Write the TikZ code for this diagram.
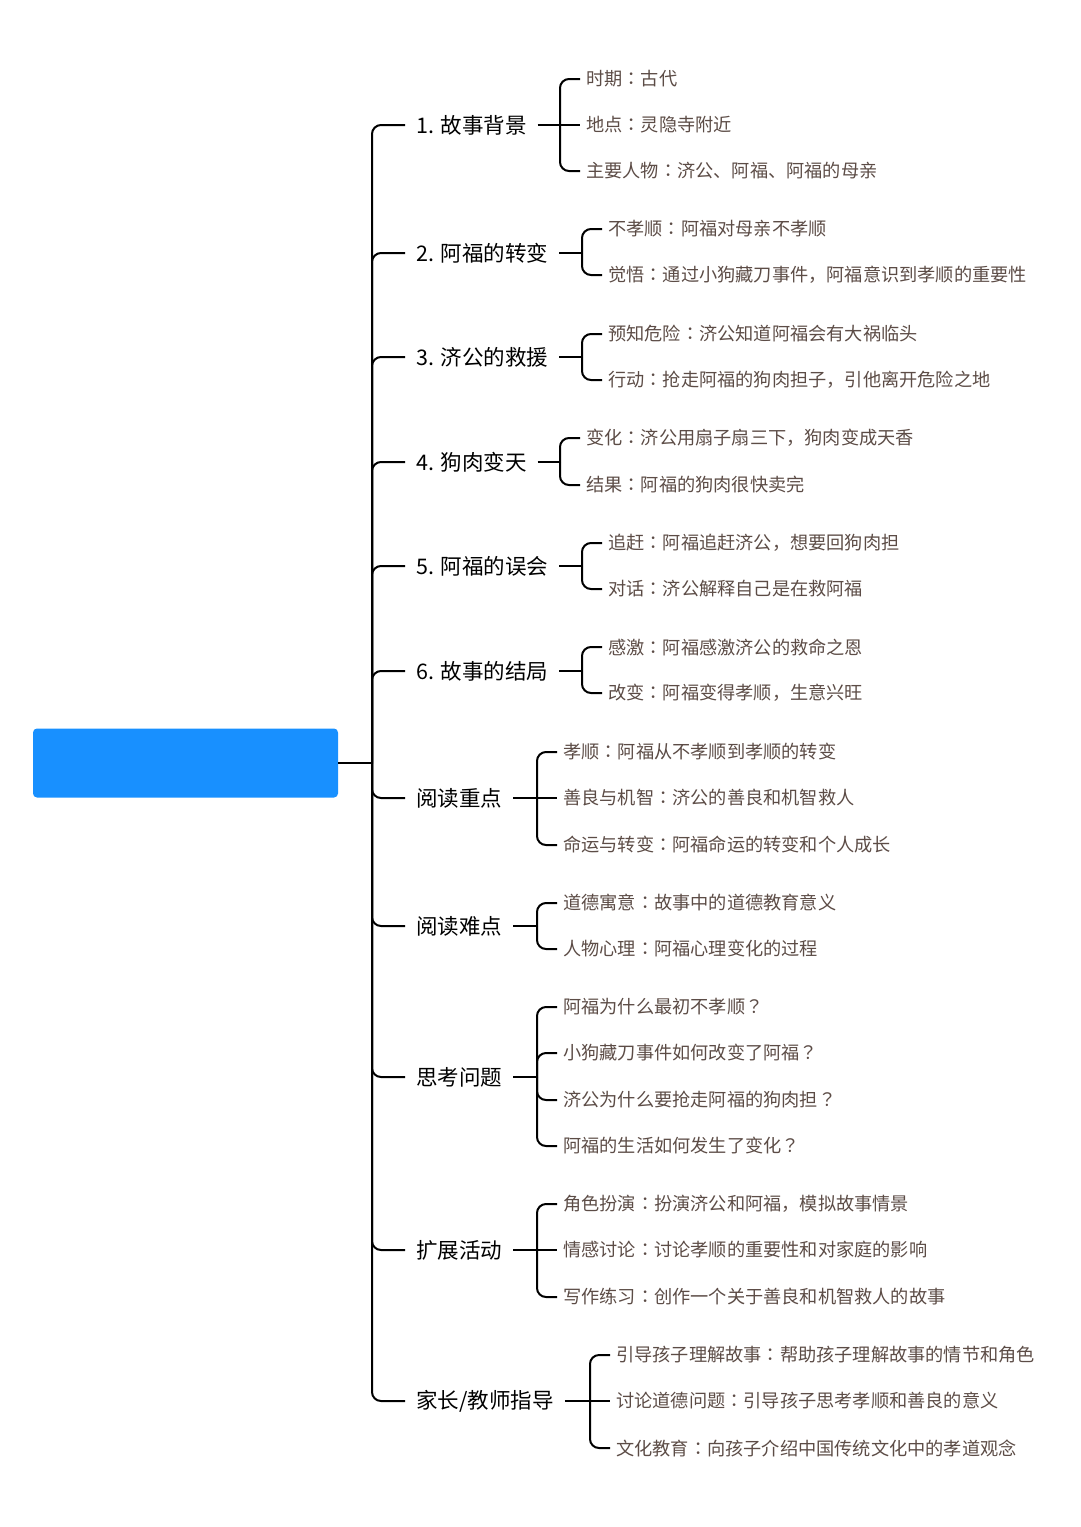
\documentclass[tikz,border=0pt]{standalone}
\usepackage{fontspec}
\setmainfont{Noto Sans CJK SC}
\newfontfamily\tcfont{Noto Sans CJK TC}
\usetikzlibrary{positioning}
\definecolor{rootblue}{RGB}{24,144,255}
\definecolor{leafbrown}{RGB}{92,76,70}
\newcommand{\cln}{{\tcfont ：}}
\newcommand{\qmk}{{\tcfont ？}}
\tikzset{
  rootbox/.style={rectangle,rounded corners=4pt,fill=rootblue,minimum width=305pt,minimum height=69pt},
  topic/.style={anchor=west,inner xsep=11pt,inner ysep=2pt,font=\fontsize{21.5}{25}\selectfont},
  leaf/.style={anchor=west,inner xsep=6pt,inner ysep=2pt,text=leafbrown,font=\fontsize{18.2}{22}\selectfont},
  link/.style={line width=2pt,rounded corners=9pt},
}
\begin{document}
\begin{tikzpicture}[x=1pt,y=1pt]
    \useasboundingbox (0,0) rectangle (1080,-1527);
    % ------------- root and trunk -------------
    \node[rootbox] (root) at (185.5,-763) {};
    \coordinate (trunk) at (372,-763);
    \draw[link] (root.east) -- (trunk);
    % ------------- topics -------------
    \node[topic] (t1) at (405,-125) {1. 故事背景};
    \node[topic] (t2) at (405,-253) {2. 阿福的转变};
    \node[topic] (t3) at (405,-357) {3. 济公的救援};
    \node[topic] (t4) at (405,-462) {4. 狗肉变天};
    \node[topic] (t5) at (405,-566) {5. 阿福的误会};
    \node[topic] (t6) at (405,-671) {6. 故事的结局};
    \node[topic] (t7) at (405,-798) {阅读重点};
    \node[topic] (t8) at (405,-926) {阅读难点};
    \node[topic] (t9) at (405,-1077) {思考问题};
    \node[topic] (t10) at (405,-1250) {扩展活动};
    \node[topic] (t11) at (405,-1401) {家长/教师指导};
    \foreach \t in {t1,t2,t3,t4,t5,t6,t7,t8,t9,t10,t11}
      \draw[link] (trunk) |- (\t.west);
    % ------------- 1. background -------------
    \coordinate (j1) at (560,-125);
    \node[leaf] (l11) at (580,-79) {时期\cln 古代};
    \node[leaf] (l12) at (580,-125) {地点\cln 灵隐寺附近};
    \node[leaf] (l13) at (580,-171) {主要人物\cln 济公、阿福、阿福的母亲};
    \draw[link] (t1.east) -- (j1) -- (l12.west);
    \draw[link] (j1) |- (l11.west);
    \draw[link] (j1) |- (l13.west);
    % ------------- 2. change -------------
    \coordinate (j2) at (582,-253);
    \node[leaf] (l21) at (602,-229) {不孝顺\cln 阿福对母亲不孝顺};
    \node[leaf] (l22) at (602,-275) {觉悟\cln 通过小狗藏刀事件，阿福意识到孝顺的重要性};
    \draw[link] (t2.east) -- (j2);
    \draw[link] (j2) |- (l21.west);
    \draw[link] (j2) |- (l22.west);
    % ------------- 3. rescue -------------
    \coordinate (j3) at (582,-357);
    \node[leaf] (l31) at (602,-334) {预知危险\cln 济公知道阿福会有大祸临头};
    \node[leaf] (l32) at (602,-380) {行动\cln 抢走阿福的狗肉担子，引他离开危险之地};
    \draw[link] (t3.east) -- (j3);
    \draw[link] (j3) |- (l31.west);
    \draw[link] (j3) |- (l32.west);
    % ------------- 4. dog meat -------------
    \coordinate (j4) at (560,-462);
    \node[leaf] (l41) at (580,-438) {变化\cln 济公用扇子扇三下，狗肉变成天香};
    \node[leaf] (l42) at (580,-485) {结果\cln 阿福的狗肉很快卖完};
    \draw[link] (t4.east) -- (j4);
    \draw[link] (j4) |- (l41.west);
    \draw[link] (j4) |- (l42.west);
    % ------------- 5. misunderstanding -------------
    \coordinate (j5) at (582,-566);
    \node[leaf] (l51) at (602,-543) {追赶\cln 阿福追赶济公，想要回狗肉担};
    \node[leaf] (l52) at (602,-589) {对话\cln 济公解释自己是在救阿福};
    \draw[link] (t5.east) -- (j5);
    \draw[link] (j5) |- (l51.west);
    \draw[link] (j5) |- (l52.west);
    % ------------- 6. ending -------------
    \coordinate (j6) at (582,-671);
    \node[leaf] (l61) at (602,-647) {感激\cln 阿福感激济公的救命之恩};
    \node[leaf] (l62) at (602,-693) {改变\cln 阿福变得孝顺，生意兴旺};
    \draw[link] (t6.east) -- (j6);
    \draw[link] (j6) |- (l61.west);
    \draw[link] (j6) |- (l62.west);
    % ------------- reading focus -------------
    \coordinate (j7) at (537,-798);
    \node[leaf] (l71) at (557,-752) {孝顺\cln 阿福从不孝顺到孝顺的转变};
    \node[leaf] (l72) at (557,-798) {善良与机智\cln 济公的善良和机智救人};
    \node[leaf] (l73) at (557,-845) {命运与转变\cln 阿福命运的转变和个人成长};
    \draw[link] (t7.east) -- (j7) -- (l72.west);
    \draw[link] (j7) |- (l71.west);
    \draw[link] (j7) |- (l73.west);
    % ------------- reading difficulty -------------
    \coordinate (j8) at (537,-926);
    \node[leaf] (l81) at (557,-903) {道德寓意\cln 故事中的道德教育意义};
    \node[leaf] (l82) at (557,-949) {人物心理\cln 阿福心理变化的过程};
    \draw[link] (t8.east) -- (j8);
    \draw[link] (j8) |- (l81.west);
    \draw[link] (j8) |- (l82.west);
    % ------------- questions -------------
    \coordinate (j9) at (537,-1077);
    \node[leaf] (l91) at (557,-1007) {阿福为什么最初不孝顺\qmk};
    \node[leaf] (l92) at (557,-1053) {小狗藏刀事件如何改变了阿福\qmk};
    \node[leaf] (l93) at (557,-1100) {济公为什么要抢走阿福的狗肉担\qmk};
    \node[leaf] (l94) at (557,-1146) {阿福的生活如何发生了变化\qmk};
    \draw[link] (t9.east) -- (j9);
    \foreach \l in {l91,l92,l93,l94}
      \draw[link] (j9) |- (\l.west);
    % ------------- activities -------------
    \coordinate (j10) at (537,-1250);
    \node[leaf] (l101) at (557,-1204) {角色扮演\cln 扮演济公和阿福，模拟故事情景};
    \node[leaf] (l102) at (557,-1250) {情感讨论\cln 讨论孝顺的重要性和对家庭的影响};
    \node[leaf] (l103) at (557,-1297) {写作练习\cln 创作一个关于善良和机智救人的故事};
    \draw[link] (t10.east) -- (j10) -- (l102.west);
    \draw[link] (j10) |- (l101.west);
    \draw[link] (j10) |- (l103.west);
    % ------------- guidance -------------
    \coordinate (j11) at (590,-1401);
    \node[leaf] (l111) at (610,-1355) {引导孩子理解故事\cln 帮助孩子理解故事的情节和角色};
    \node[leaf] (l112) at (610,-1401) {讨论道德问题\cln 引导孩子思考孝顺和善良的意义};
    \node[leaf] (l113) at (610,-1448) {文化教育\cln 向孩子介绍中国传统文化中的孝道观念};
    \draw[link] (t11.east) -- (j11) -- (l112.west);
    \draw[link] (j11) |- (l111.west);
    \draw[link] (j11) |- (l113.west);
\end{tikzpicture}
\end{document}
